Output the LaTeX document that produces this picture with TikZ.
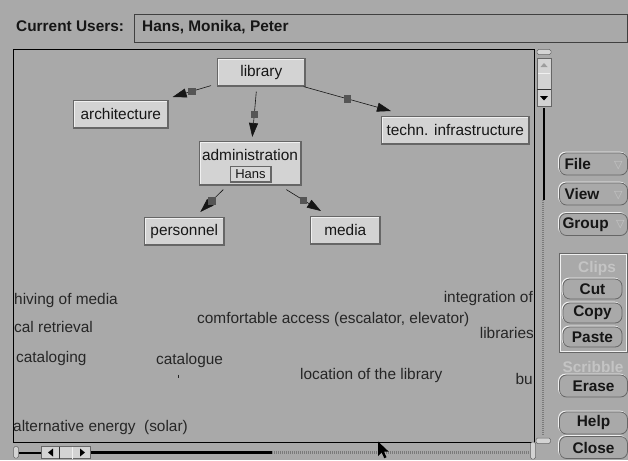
\documentclass[tikz,border=0pt]{standalone}
\usepackage{fontspec}
\setmainfont{Liberation Sans}
\newfontfamily\glyphfont{DejaVu Sans}
\usetikzlibrary{arrows.meta}

\definecolor{bg}{HTML}{A9A9A9}
\definecolor{boxfill}{HTML}{D3D3D3}
\definecolor{hilite}{HTML}{F0F0F0}
\definecolor{dkedge}{HTML}{666666}
\definecolor{marker}{HTML}{555555}
\definecolor{ink}{HTML}{161616}
\definecolor{loose}{HTML}{262626}
\definecolor{faint}{HTML}{C4C4C4}
\definecolor{track}{HTML}{7A7A7A}

\newcommand\uisize{\fontsize{15.4}{18}\selectfont}
\newcommand\smallui{\fontsize{13}{15}\selectfont}
\newcommand\menutri{{\glyphfont\fontsize{11}{12}\selectfont\color{faint}\raisebox{0.5pt}{▽}}}

\begin{document}
\begin{tikzpicture}[x=1pt,y=-1pt,
  raised/.style={draw=dkedge, fill=boxfill, line width=0.6pt, inner sep=0pt,
    font=\uisize, text=ink, anchor=north west,
    path picture={
      \draw[hilite, line width=2.6pt] (path picture bounding box.south west)
        -- (path picture bounding box.north west) -- (path picture bounding box.north east);
      \draw[dkedge, line width=2.6pt] (path picture bounding box.south west)
        -- (path picture bounding box.south east) -- (path picture bounding box.north east);}},
  tagbox/.style={raised, anchor=center, font=\smallui, fill=boxfill!90!white},
  link/.style={draw=ink, line width=0.6pt, -{Triangle[length=14pt,width=9pt]}},
  sq/.style={fill=marker, minimum size=7.5pt, inner sep=0pt},
  loosetext/.style={font=\uisize, text=loose, inner sep=0pt},
  pill/.style={draw=dkedge, fill=bg, rounded corners=7pt, line width=0.8pt,
    minimum width=68pt, minimum height=22pt, inner sep=0pt, font=\bfseries\uisize, text=ink,
    preaction={draw=hilite, line width=1pt, rounded corners=7pt,
      transform canvas={xshift=-0.9pt, yshift=0.9pt}}},
  smallpill/.style={pill, minimum width=59pt, minimum height=20pt},
  greyed/.style={font=\bfseries\uisize, text=faint, inner sep=0pt},
  trackline/.style={draw=track, line width=2.2pt, dash pattern=on 1pt off 1pt},
  thumb/.style={draw=black, line width=2.4pt},
  endcap/.style={draw=dkedge, fill=boxfill, line width=0.5pt, rounded corners=1.5pt}
]
\useasboundingbox[fill=bg] (0,0) rectangle (628,460);

% ---- user bar ----
\node[anchor=base west, font=\bfseries\uisize, text=ink, inner sep=0pt] (cu) at (16,31) {Current Users:};
\draw[line width=0.9pt, draw=black!75] (134,14.5) rectangle (627,42.5);
\node[anchor=base west, font=\bfseries\uisize, text=ink, inner sep=0pt] (ulist) at (142,31) {Hans, Monika, Peter};

% ---- canvas frame ----
\draw[black, line width=1pt] (13.5,49.5) rectangle (534.5,442.5);

% ---- concept nodes ----
\node[raised, minimum width=88pt, minimum height=28pt] (library) at (217,58) {library};
\node[raised, minimum width=95pt, minimum height=28pt] (arch) at (73,100) {architecture};
\node[raised, minimum width=148pt, minimum height=28pt] (techn) at (381,116) {techn. infrastructure};
\node[raised, minimum width=102pt, minimum height=44pt] (admin) at (199,141) {};
\node[anchor=base, font=\uisize, text=ink, inner sep=0pt] (admintext) at (250,160) {administration};
\node[tagbox, minimum width=41pt, minimum height=16pt] (hans) at (250.5,174) {Hans};
\node[raised, minimum width=80pt, minimum height=28pt] (personnel) at (144,217) {personnel};
\node[raised, minimum width=70pt, minimum height=28pt] (media) at (310,216) {media};

% ---- links ----
\draw[link] ([shift={(-6,-1)}]library.south west) -- node[sq]{} ([shift={(4,-3)}]arch.north east);
\draw[link] ([shift={(-5,5)}]library.south) -- node[sq]{} ([shift={(2,-4)}]admin.north);
\draw[link] ([shift={(-2,0)}]library.south east) -- node[sq]{} ([shift={(10,-5)}]techn.north west);
\draw[link] ([shift={(-27,4)}]admin.south) -- node[sq]{} ([shift={(16,-5)}]personnel.north);
\draw[link] ([shift={(36,4)}]admin.south) -- node[sq]{} ([shift={(11,-5)}]media.north west);

% ---- loose ideas ----
\node[loosetext, anchor=base west] (t1) at (14,304) {hiving of media};
\node[loosetext, anchor=base west] (t2) at (14,332) {cal retrieval};
\node[loosetext, anchor=base west] (t3) at (16,362) {cataloging};
\node[loosetext, anchor=base west] (t4) at (156,364) {catalogue};
\draw[loose, line width=1pt] (178,374.5) -- (178,377.5);
\node[loosetext, anchor=base west] (t5) at (197,323) {comfortable access (escalator, elevator)};
\node[loosetext, anchor=base east] (t6) at (533,302) {integration of};
\node[loosetext, anchor=base east] (t7) at (534,338) {libraries};
\node[loosetext, anchor=base west] (t8) at (300,379) {location of the library};
\node[loosetext, anchor=base east] (t9) at (533,384) {bu};
\node[loosetext, anchor=base west] (t10) at (13,431) {alternative energy\ \ (solar)};

% ---- vertical scrollbar ----
\draw[endcap] (537,49.5) rectangle (551,54.5);
\draw[draw=dkedge, fill=boxfill, line width=0.6pt] (537,58) rectangle (551,106);
\draw[hilite, line width=1pt] (538,73.5) -- (550,73.5);
\draw[black!80, line width=1pt] (537,89) -- (551,89);
\fill[faint!80!black] (540.5,67) -- (547.5,67) -- (544,63) -- cycle;
\fill[black] (540,96) -- (548,96) -- (544,100.5) -- cycle;
\draw[thumb] (543.7,108) -- (543.7,200);
\draw[trackline] (543,200) -- (543,436);
\draw[endcap] (536,438) rectangle (550.5,443.5);

% ---- horizontal scrollbar ----
\draw[endcap] (13.5,446.5) rectangle (18.5,458);
\draw[black, line width=2pt] (18.5,452.5) -- (41.5,452.5);
\draw[draw=dkedge, fill=boxfill, line width=0.6pt] (41.5,446.5) rectangle (90,458.5);
\draw[black!80, line width=0.8pt] (59,446.5) -- (59,458.5);
\draw[hilite, line width=0.8pt] (72.5,446.5) -- (72.5,458.5);
\fill[black] (48,452.5) -- (53,448.5) -- (53,456.5) -- cycle;
\fill[black] (85,452.5) -- (80,448.5) -- (80,456.5) -- cycle;
\draw[black, line width=2.4pt] (91,452.5) -- (272,452.5);
\draw[trackline] (272,452.5) -- (529,452.5);
\draw[endcap] (530.5,442) rectangle (535.5,459);

% ---- mouse pointer ----
\fill[black] (378,441.5) -- (378,456) -- (381.6,452.4) -- (384.3,458.2) -- (386.5,457.2)
  -- (383.8,451.5) -- (388.6,451.5) -- cycle;

% ---- command buttons ----
\node[pill] (file) at (593.5,164) {\makebox[58pt]{File\hfill\menutri}};
\node[pill] (view) at (593.5,194) {\makebox[58pt]{View\hfill\menutri}};
\node[pill] (group) at (593.5,224.5) {\makebox[62pt]{Group\hfill\menutri}};

\draw[dkedge, line width=0.8pt] (559.5,253.5) rectangle (627,352.5);
\draw[hilite, line width=0.6pt] (560.5,254.5) rectangle (626,351.5);
\node[greyed] (clips) at (597,269) {Clips};
\node[smallpill] (cut) at (592.5,289) {Cut};
\node[smallpill] (copy) at (592.5,313) {Copy};
\node[smallpill] (paste) at (592.5,337) {Paste};

\node[greyed] (scribble) at (593,366.5) {Scribble};
\node[pill] (erase) at (593.5,386) {Erase};
\node[pill] (help) at (593.5,423) {Help};
\node[pill] (close) at (593.5,447.5) {Close};
\end{tikzpicture}
\end{document}
